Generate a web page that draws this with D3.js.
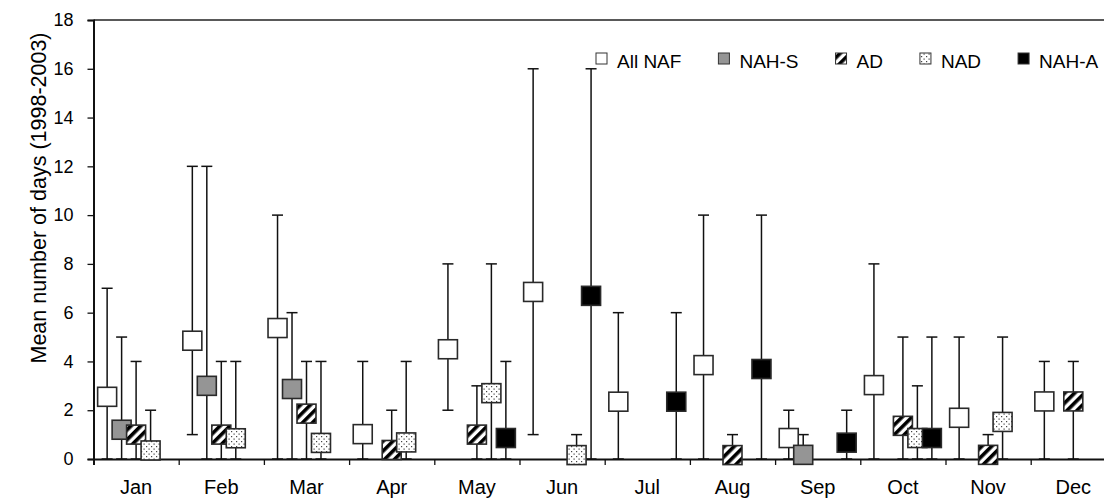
<!DOCTYPE html>
<html>
<head>
<meta charset="utf-8">
<script src="https://cdn.jsdelivr.net/npm/d3@7/dist/d3.min.js"></script>
<style>
  html, body { margin: 0; padding: 0; background: #fff; }
  svg { display: block; }
  text { font-family: "Liberation Sans", Arial, sans-serif; fill: #000; }
</style>
</head>
<body>
<svg id="chart" width="1104" height="499"></svg>
<script>
// ---------- data ----------
const months = ["Jan","Feb","Mar","Apr","May","Jun","Jul","Aug","Sep","Oct","Nov","Dec"];
const seriesNames = ["All NAF","NAH-S","AD","NAD","NAH-A"];
const yTicks = [0,2,4,6,8,10,12,14,16,18];

const allNafMean = [2.55, 4.85, 5.37, 1.02, 4.5, 6.85, 2.35, 3.85, 0.86, 3.03, 1.69, 2.36];
const allNafLow  = [0, 1, 0, 0, 2, 1, 0, 0, 0, 0, 0, 0];
const allNafHigh = [7, 12, 10, 4, 8, 16, 6, 10, 2, 8, 5, 4];

const nahSMean = [1.2, 3.0, 2.87, null, null, null, null, null, 0.17, null, null, null];
const nahSLow  = [0, 0, 0, null, null, null, null, null, 0, null, null, null];
const nahSHigh = [5, 12, 6, null, null, null, null, null, 1, null, null, null];

const adMean = [1.0, 1.0, 1.86, 0.37, 1.0, null, null, 0.16, null, 1.36, 0.17, 2.36];
const adLow  = [0, 0, 0, 0, 0, null, null, 0, null, 0, 0, 0];
const adHigh = [4, 4, 4, 2, 3, null, null, 1, null, 5, 1, 4];

const nadMean = [0.35, 0.85, 0.66, 0.68, 2.7, 0.16, null, null, null, 0.86, 1.52, null];
const nadLow  = [0, 0, 0, 0, 0, 0, null, null, null, 0, 0, null];
const nadHigh = [2, 4, 4, 4, 8, 1, null, null, null, 3, 5, null];

const nahAMean = [null, null, null, null, 0.86, 6.69, 2.35, 3.69, 0.67, 0.86, null, null];
const nahALow  = [null, null, null, null, 0, 0, 0, 0, 0, 0, null, null];
const nahAHigh = [null, null, null, null, 4, 16, 6, 10, 2, 5, null, null];

const seriesMeans = [allNafMean, nahSMean, adMean, nadMean, nahAMean];
const seriesLows  = [allNafLow, nahSLow, adLow, nadLow, nahALow];
const seriesHighs = [allNafHigh, nahSHigh, adHigh, nadHigh, nahAHigh];

// ---------- layout ----------
const svg = d3.select("#chart");
const plotLeft = 93.5, plotTop = 20, plotBottom = 459;
const monthWidth = 85.2;
const seriesStep = 0.17; // offset between series within a month (in month units)
const markerSize = 19;

const x = d3.scaleLinear().domain([0, 12]).range([plotLeft, plotLeft + 12 * monthWidth]);
const y = d3.scaleLinear().domain([0, 18]).range([plotBottom, plotTop]);

// patterns
const defs = svg.append("defs");
const stripe = defs.append("pattern")
  .attr("id", "stripes").attr("patternUnits", "userSpaceOnUse")
  .attr("width", 7).attr("height", 7)
  .attr("patternTransform", "rotate(45)");
stripe.append("rect").attr("width", 7).attr("height", 7).attr("fill", "#fff");
stripe.append("rect").attr("width", 3.6).attr("height", 7).attr("fill", "#000");

const dots = defs.append("pattern")
  .attr("id", "dots").attr("patternUnits", "userSpaceOnUse")
  .attr("width", 5).attr("height", 5);
dots.append("rect").attr("width", 5).attr("height", 5).attr("fill", "#fff");
dots.append("rect").attr("x", 1).attr("y", 1).attr("width", 1.2).attr("height", 1.2).attr("fill", "#444");
dots.append("rect").attr("x", 3.5).attr("y", 3.5).attr("width", 1.2).attr("height", 1.2).attr("fill", "#444");

const fills = ["#fff", "#959595", "url(#stripes)", "url(#dots)", "#000"];

// top frame line
svg.append("line")
  .attr("x1", plotLeft).attr("x2", 1104)
  .attr("y1", plotTop).attr("y2", plotTop)
  .attr("stroke", "#222").attr("stroke-width", 1.5);

// y axis
const yAxis = d3.axisLeft(y).tickValues(yTicks).tickSize(6).tickPadding(14).tickFormat(d3.format("d"));
const gy = svg.append("g").attr("transform", `translate(${plotLeft},0)`).call(yAxis);
gy.select(".domain").attr("stroke", "#111").attr("stroke-width", 2);
gy.selectAll(".tick line").attr("stroke", "#111").attr("stroke-width", 1.3);
gy.selectAll(".tick text").style("font-size", "18px").attr("font-family", null);

// x axis (ticks at month boundaries)
const xAxis = d3.axisBottom(x).tickValues(d3.range(0, 13)).tickSize(6).tickFormat("");
const gx = svg.append("g").attr("transform", `translate(0,${plotBottom})`).call(xAxis);
gx.select(".domain").attr("stroke", "#111").attr("stroke-width", 2);
gx.selectAll(".tick line").attr("stroke", "#111").attr("stroke-width", 1.3);

// month labels
svg.append("g").selectAll("text").data(months).join("text")
  .attr("x", (d, i) => x(i + 0.5))
  .attr("y", 494)
  .attr("text-anchor", "middle")
  .style("font-size", "20px")
  .text(d => d);

// y title
svg.append("text")
  .attr("transform", `translate(46,198) rotate(-90)`)
  .attr("text-anchor", "middle")
  .style("font-size", "21.5px")
  .text("Mean number of days (1998-2003)");

// build point records
const points = [];
seriesMeans.forEach((arr, s) => {
  arr.forEach((v, m) => {
    if (v === null) return;
    points.push({ s, m, v, lo: seriesLows[s][m], hi: seriesHighs[s][m],
                  xv: m + 0.5 + (s - 2) * seriesStep });
  });
});

// error bars
const eb = svg.append("g").attr("stroke", "#111").attr("stroke-width", 1.5);
points.forEach(p => {
  const cx = x(p.xv);
  eb.append("line").attr("x1", cx).attr("x2", cx).attr("y1", y(p.lo)).attr("y2", y(p.hi));
  eb.append("line").attr("x1", cx - 5.5).attr("x2", cx + 5.5).attr("y1", y(p.hi)).attr("y2", y(p.hi));
  eb.append("line").attr("x1", cx - 5.5).attr("x2", cx + 5.5).attr("y1", y(p.lo)).attr("y2", y(p.lo));
});

// markers
svg.append("g").selectAll("rect").data(points).join("rect")
  .attr("x", p => x(p.xv) - markerSize / 2)
  .attr("y", p => y(p.v) - markerSize / 2)
  .attr("width", markerSize).attr("height", markerSize)
  .attr("fill", p => fills[p.s])
  .attr("stroke", "#2a2a2a").attr("stroke-width", 1.6);

// legend
const legend = svg.append("g");
let lx = 596;
seriesNames.forEach((name, s) => {
  legend.append("rect")
    .attr("x", lx).attr("y", 53).attr("width", 11).attr("height", 11)
    .attr("fill", fills[s]).attr("stroke", "#333").attr("stroke-width", 1);
  const t = legend.append("text")
    .attr("x", lx + 21).attr("y", 68)
    .style("font-size", "19px")
    .text(name);
  lx += 21 + t.node().getComputedTextLength() + 37;
});
</script>
</body>
</html>
